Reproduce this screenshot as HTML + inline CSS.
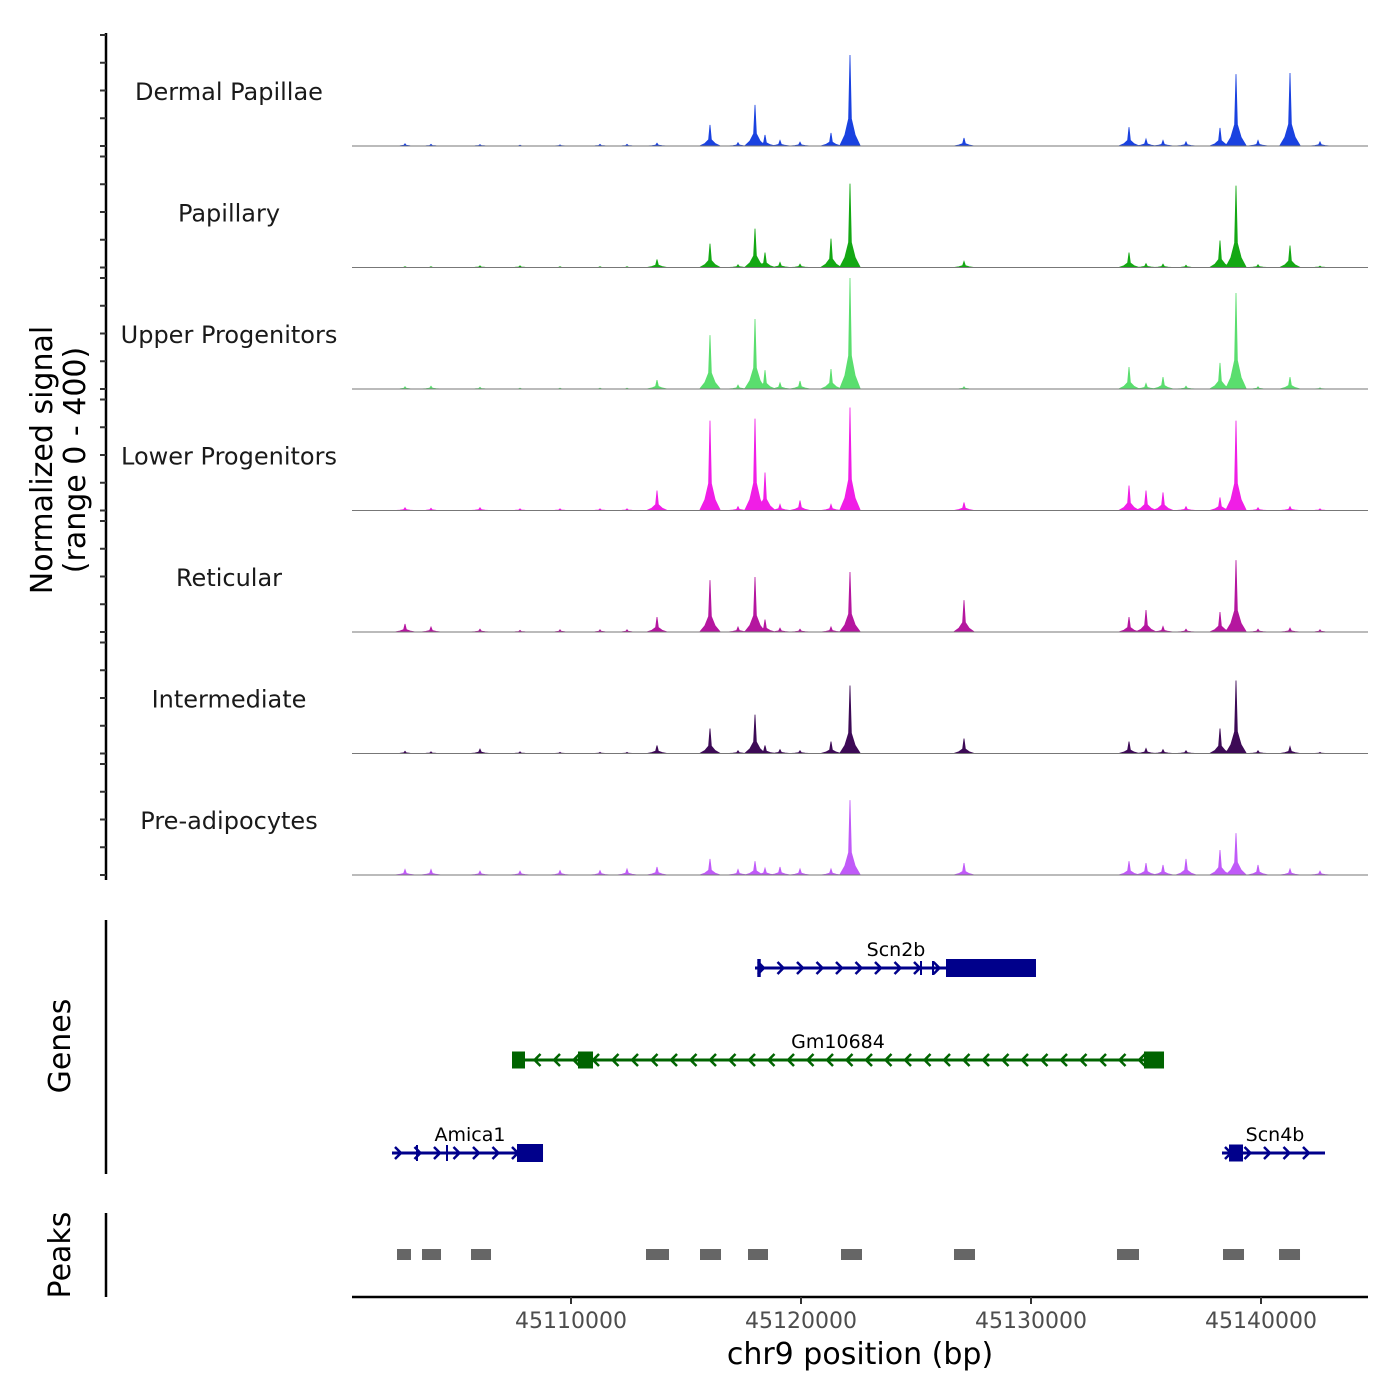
<!DOCTYPE html>
<html><head><meta charset="utf-8"><style>
html,body{margin:0;padding:0;background:#fff;width:1400px;height:1400px;overflow:hidden}
svg{font-family:"DejaVu Sans","Liberation Sans",sans-serif}
</style></head><body>
<svg id="chart" width="1400" height="1400" viewBox="0 0 1400 1400" xmlns="http://www.w3.org/2000/svg">
<text transform="translate(52,460) rotate(-90)" text-anchor="middle" font-size="30" fill="#000">Normalized signal</text>
<text transform="translate(85,460) rotate(-90)" text-anchor="middle" font-size="30" fill="#000">(range 0 - 400)</text>
<text transform="translate(70,1046) rotate(-90)" text-anchor="middle" font-size="30" fill="#000">Genes</text>
<text transform="translate(70,1255) rotate(-90)" text-anchor="middle" font-size="30" fill="#000">Peaks</text>
<line x1="106" y1="920" x2="106" y2="1174" stroke="#000" stroke-width="2.5"/>
<line x1="106" y1="1213" x2="106" y2="1297" stroke="#000" stroke-width="2.5"/>
<line x1="352" y1="1297" x2="1368" y2="1297" stroke="#000" stroke-width="2.5"/>
<text x="860" y="1364" text-anchor="middle" font-size="30" fill="#000">chr9 position (bp)</text>
<g id="g"></g>
</svg>
<script>
const tracks = ["Dermal Papillae","Papillary","Upper Progenitors","Lower Progenitors","Reticular","Intermediate","Pre-adipocytes"];
const colors = ["#1a42e0","#14a814","#5ade6e","#f01ee6","#b5169f","#3d0a56","#c05af8"];
const peakPos = [45102783,45103913,45106043,45107783,45109522,45111261,45112435,45113739,45116043,45117261,45118000,45118435,45119087,45119957,45121304,45122130,45127087,45134261,45135000,45135739,45136739,45138217,45138913,45139870,45141261,45142565];
const sigDermal =  [8,6,5,3,4,6,6,10,76,12,148,40,20,14,47,328,29,68,25,20,15,65,259,20,263,15];
const sigPapillary=[3,3,6,6,3,3,3,29,86,10,140,54,18,12,104,302,22,54,14,12,8,97,295,10,79,5];
const sigUpper =   [8,10,6,3,3,3,3,32,194,14,252,68,22,29,72,400,8,79,20,43,10,94,346,8,43,4];
const sigLower =   [10,8,10,6,6,6,6,72,324,14,331,137,22,36,22,371,29,90,72,65,14,47,324,10,14,6];
const sigRetic =   [29,18,10,6,8,8,8,54,187,18,198,45,14,10,18,216,115,54,79,20,10,72,259,10,14,8];
const sigInter =   [8,6,16,6,4,4,4,29,90,10,140,29,14,10,43,245,54,43,18,14,10,90,263,10,25,4];
const sigPre =     [20,20,14,14,16,16,22,29,58,20,50,25,29,22,22,270,43,50,43,36,58,90,151,36,22,14];
const signals = [sigDermal,sigPapillary,sigUpper,sigLower,sigRetic,sigInter,sigPre];
const xTicks = [45110000,45120000,45130000,45140000];
const yTicks = [0,100,200,300,400];

const NS="http://www.w3.org/2000/svg";
const g=document.getElementById('g');
function xs(bp){return 571+(bp-45110000)*0.023;}
const trackH=111, firstBase=146, step=121.5;
function mk(tag,attrs,parent){const e=document.createElementNS(NS,tag);for(const k in attrs)e.setAttribute(k,attrs[k]);(parent||g).appendChild(e);return e;}

const yl=mk('line',{x1:106,y1:33,x2:106,y2:880,stroke:'#000','stroke-width':2.5});



tracks.forEach((name,i)=>{
  const base=firstBase+i*step;
  const ys=v=>base-v/400*trackH;
  yTicks.forEach(t=>{
    const tk=mk('line',{x1:100,x2:106,y1:ys(t),y2:ys(t),stroke:'#333','stroke-width':2});
    
    
  });
  const lab=mk('text',{x:229,y:base-46,'text-anchor':'middle','font-size':24,fill:'#1a1a1a'});
  lab.textContent=name;
  
  
  const vals=signals[i];
  const hw=150;
  const order=peakPos.map((p,j)=>j).sort((a,b)=>peakPos[a]-peakPos[b]);
  let d='M'+xs(45102200)+','+base;
  order.forEach(j=>{
    const p=peakPos[j], v=vals[j];
    d+=' L'+xs(p-hw*3)+','+base+' L'+xs(p-hw*1.5)+','+ys(v*0.12)+' L'+xs(p-hw*0.4)+','+ys(v*0.3)+' L'+xs(p)+','+ys(v)+' L'+xs(p+hw*0.4)+','+ys(v*0.3)+' L'+xs(p+hw*1.5)+','+ys(v*0.12)+' L'+xs(p+hw*3)+','+base;
  });
  d+=' L'+xs(45142800)+','+base+' Z';
  const a=mk('path',{d:d,fill:colors[i],stroke:colors[i],'stroke-width':0.8});
  
  
  const bl=mk('line',{x1:352,x2:1368,y1:base,y2:base,stroke:'#777','stroke-width':1});
  
  
});

xTicks.forEach(t=>{
  const x=xs(t);
  const tk=mk('line',{x1:x,x2:x,y1:1297,y2:1304,stroke:'#333','stroke-width':2});
  
  
  const tl=mk('text',{x:x,y:1328,'text-anchor':'middle','font-size':22,fill:'#4d4d4d'});
  tl.textContent=t;
  
  
});

const peakStart=[45102435,45103522,45105652,45113261,45115609,45117696,45121739,45126652,45133739,45138348,45140783];
const peakEnd=  [45103043,45104348,45106522,45114261,45116522,45118565,45122652,45127565,45134696,45139261,45141696];
peakStart.forEach((s,i)=>{
  const r=mk('rect',{x:xs(s),y:1249,width:xs(peakEnd[i])-xs(s),height:11,fill:'#666'});
  
  
});

function gene(name,start,end,y,color,dir,exons,labelX){
  const grp=mk('g',{});
  
  
  mk('line',{x1:xs(start),x2:xs(end),y1:y,y2:y,stroke:color,'stroke-width':3},grp);
  for(let x=xs(start)+6;x<xs(end)-4;x+=19.5){
    const p=dir>0?`M${x-3},${y-6} L${x+3},${y} L${x-3},${y+6}`:`M${x+3},${y-6} L${x-3},${y} L${x+3},${y+6}`;
    mk('path',{d:p,fill:'none',stroke:color,'stroke-width':2.5},grp);
  }
  exons.forEach(e=>{mk('rect',{x:xs(e[0]),y:y-e[2]/2,width:Math.max(2,xs(e[1])-xs(e[0])),height:e[2],fill:color},grp);});
  const t=mk('text',{x:labelX,y:y-12,'text-anchor':'middle','font-size':19,fill:'#000'},grp);
  t.textContent=name;
}
gene('Scn2b',45118000,45130217,968,'#00008b',1,[[45118100,45118250,18],[45125174,45125260,14],[45125696,45125780,14],[45126304,45130217,18]],896);
gene('Gm10684',45107435,45135783,1060,'#006400',-1,[[45107435,45108000,17],[45110304,45110957,17],[45134913,45135783,17]],838);
gene('Amica1',45102217,45108783,1153,'#00008b',1,[[45103261,45103300,16],[45104565,45104600,16],[45107652,45108783,18]],470);
gene('Scn4b',45138304,45142783,1153,'#00008b',1,[[45138609,45139217,17]],1275);
</script>
</body></html>
